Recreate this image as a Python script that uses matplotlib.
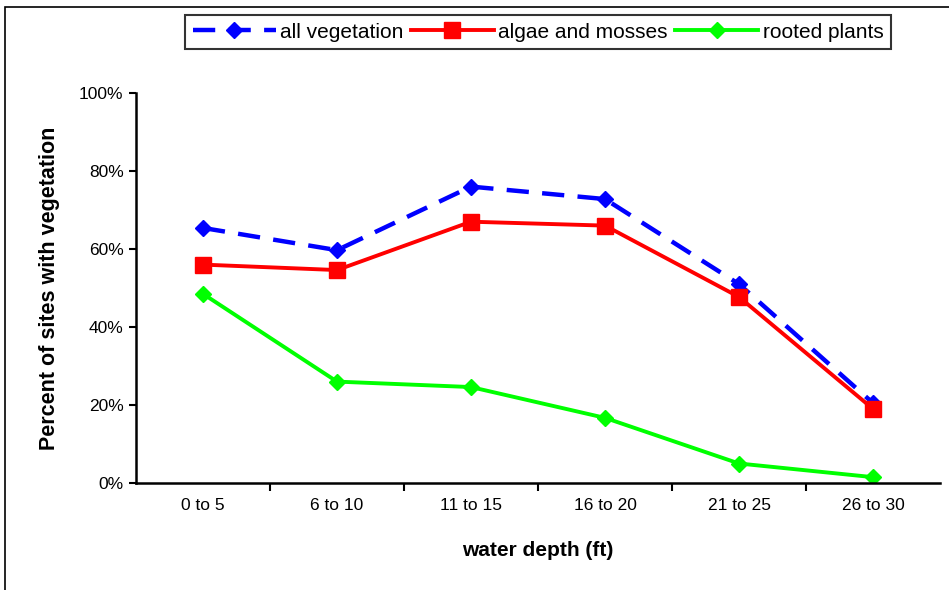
import numpy as np
import matplotlib.pyplot as plt
from matplotlib.patches import Rectangle

plt.rcParams['font.family'] = ['Liberation Sans', 'DejaVu Sans']

depths = ['0 to 5', '6 to 10', '11 to 15', '16 to 20', '21 to 25', '26 to 30']
all_veg = [65.4, 59.7, 76.0, 72.8, 51.0, 20.5]
algae = [56.0, 54.6, 67.0, 66.0, 47.7, 19.0]
rooted = [48.5, 26.0, 24.6, 16.7, 5.0, 1.5]

fig = plt.figure(figsize=(9.49, 5.9), dpi=100)
ax = fig.add_axes([136 / 949, 1 - 483 / 590, 804 / 949, 390 / 590])

# outer frame around the whole chart
fig.patches.append(Rectangle((5 / 949, -0.05), 1.0, 1 - 7 / 590 + 0.05,
                             transform=fig.transFigure, fill=False,
                             edgecolor='black', lw=1.2, clip_on=False))

x = np.arange(len(depths))
ax.plot(x, all_veg, color='#0000ff', lw=3.2, ls=(0, (5, 3)), marker='D', ms=8,
        label='all vegetation')
ax.plot(x, algae, color='#ff0000', lw=2.8, marker='s', ms=11,
        label='algae and mosses')
ax.plot(x, rooted, color='#00ff00', lw=2.8, marker='D', ms=8,
        label='rooted plants')

ax.set_xlim(-0.5, len(depths) - 0.5)
ax.set_ylim(0, 100)
ax.set_yticks(np.arange(0, 101, 20))
ax.set_yticklabels([f'{v}%' for v in range(0, 101, 20)], fontsize=12.5)
ax.set_xticks(x)
ax.set_xticklabels(depths, fontsize=12.5)
ax.tick_params(axis='x', length=0, pad=11)
ax.set_xticks(np.arange(0.5, len(depths) - 0.5), minor=True)
ax.tick_params(axis='x', which='minor', length=6, width=1.5)
ax.tick_params(axis='y', length=5, width=1.5, pad=4)

for side in ['top', 'right']:
    ax.spines[side].set_visible(False)
for side in ['left', 'bottom']:
    ax.spines[side].set_linewidth(1.8)

ax.set_xlabel('water depth (ft)', fontsize=15, fontweight='bold', labelpad=20)
ax.set_ylabel('Percent of sites with vegetation', fontsize=15.5,
              fontweight='bold', labelpad=14)

leg = fig.legend(loc='center', bbox_to_anchor=(538 / 949, 1 - 32 / 590),
                 ncol=3, fontsize=15, frameon=True, fancybox=False,
                 handlelength=4.0, handletextpad=0.2, columnspacing=0.35,
                 borderpad=0.35)
leg.get_frame().set_edgecolor('black')
leg.get_frame().set_linewidth(1.5)

fig.savefig('out.png', dpi=100)
